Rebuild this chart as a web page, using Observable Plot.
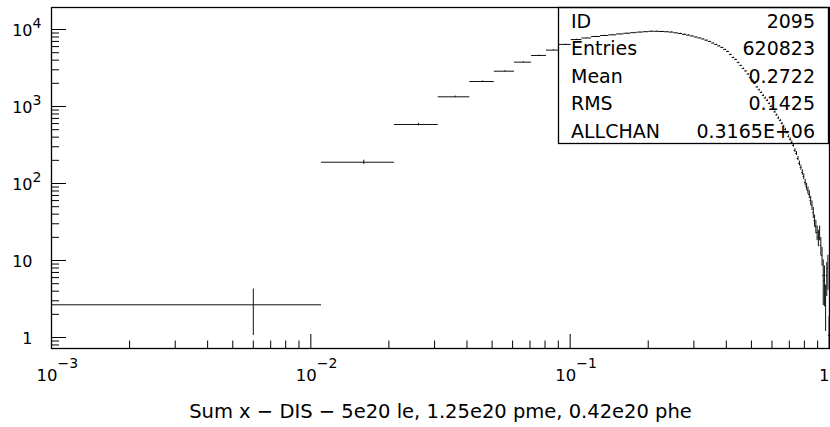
<!DOCTYPE html>
<html><head><meta charset="utf-8">
<script src="https://cdn.jsdelivr.net/npm/d3@7"></script>
<script src="https://cdn.jsdelivr.net/npm/@observablehq/plot@0.6"></script>
<style>
html,body{margin:0;padding:0;background:#fff;}
#chart{width:830px;height:427px;overflow:hidden;}
</style></head><body><div id="chart"></div>
<script>
// Histogram definition (HBOOK ID 2095): 100 bins of width 0.01 starting at 0.001
const histMin = 0.001;
const binWidth = 0.01;
const counts = [
  2.66, 189, 584, 1336, 2112, 2875, 3768, 4600, 5400, 6400,
  7410, 7760, 8110, 8360, 8530, 8750, 8930, 9090, 9250, 9360,
  9480, 9470, 9420, 9350, 9250, 9060, 8870, 8660, 8450, 8240,
  7990, 7760, 7530, 7260, 6980, 6670, 6380, 6100, 5830, 5490,
  5180, 4730, 4320, 4070, 3720, 3400, 3110, 2890, 2640, 2380,
  2180, 1990, 1790, 1640, 1520, 1390, 1290, 1200, 1090, 1000,
  930, 850, 776, 709, 658, 601, 550, 502, 459, 408,
  373, 341, 312, 268, 245, 211, 182, 161, 139, 123,
  103, 91, 81, 72, 60, 52, 42, 33, 27.7, 23.1,
  19.9, 23, 15.7, 11.6, 6.4, 5.5, 3.0, 6.4, 7.9, 1.06
];
const errors = [
  1.6, 12, 21, 32, 40, 46, 53, 59, 64, 69,
  75, 76, 78, 79, 80, 81, 82, 83, 83, 84,
  84, 84, 84, 84, 83, 82, 82, 81, 80, 79,
  77, 76, 75, 74, 72, 71, 69, 68, 66, 64,
  62, 60, 57, 55, 53, 50, 48, 47, 45, 42,
  41, 39, 37, 35, 34, 32, 31, 30, 29, 27,
  26, 25, 24, 23, 22, 21, 20, 19, 19, 18,
  17, 16, 16, 15, 14, 13, 13, 12, 11, 11,
  10, 9.5, 9, 8.5, 8, 7.5, 7, 6, 5.5, 5,
  4.8, 5, 4.2, 3.2, 3.8, 3, 1.8, 3, 3.8, 0.8
];

const xPowerTicks = [0.001, 0.01, 0.1];
const xPowerExp   = ["\u22123", "\u22122", "\u22121"];
const xUnitTick   = [1];
const xMajorTicks = [0.001, 0.01, 0.1, 1];
const xMinorTicks = [0.002,0.003,0.004,0.005,0.006,0.007,0.008,0.009,
                     0.02,0.03,0.04,0.05,0.06,0.07,0.08,0.09,
                     0.2,0.3,0.4,0.5,0.6,0.7,0.8,0.9];

const yMajorTicks = [1, 10, 100, 1000, 10000];
const yMinorTicks = [0.8,0.9, 2,3,4,5,6,7,8,9, 20,30,40,50,60,70,80,90,
                     200,300,400,500,600,700,800,900, 2000,3000,4000,5000,6000,7000,8000,9000];
const yTickBase = ["1", "10", "10", "10", "10"];
const yTickExp  = ["", "", "2", "3", "4"];

const statLabels = ["ID", "Entries", "Mean", "RMS", "ALLCHAN"];
const statValues = ["2095", "620823", "0.2722", "0.1425", "0.3165E+06"];
const xLabel = "Sum x \u2212 DIS \u2212 5e20 le, 1.25e20 pme, 0.42e20 phe";

const bins = counts.map((v, i) => ({
  lo: histMin + i * binWidth,
  hi: histMin + (i + 1) * binWidth,
  c: histMin + (i + 0.5) * binWidth,
  v, e: errors[i]
}));

const W = 830, H = 427, mL = 51, mR = 1, mT = 7, mB = 79;
const fw = W - mL - mR, fh = H - mT - mB;
const font = "'DejaVu Sans', sans-serif";

const plot = Plot.plot({
  width: W, height: H,
  marginLeft: mL, marginRight: mR, marginTop: mT, marginBottom: mB,
  style: {fontFamily: font, background: "#fff", color: "#000", overflow: "visible"},
  x: {type: "log", domain: [0.001, 1], axis: null},
  y: {type: "log", domain: [0.72, 19310], axis: null},
  marks: [
    Plot.ruleY(bins, {y: "v", x1: "lo", x2: "hi", stroke: "#111", strokeWidth: 1, clip: true}),
    Plot.ruleX(bins, {x: "c", y1: d => Math.max(d.v - d.e, 0.05), y2: d => d.v + d.e, stroke: "#111", strokeWidth: 1, clip: true}),
    Plot.tickX(xMajorTicks, {x: d => d, insetTop: fh - 14, stroke: "#000"}),
    Plot.tickX(xMinorTicks, {x: d => d, insetTop: fh - 7.5, stroke: "#000"}),
    Plot.tickY(yMajorTicks, {y: d => d, insetRight: fw - 15, stroke: "#000"}),
    Plot.tickY(yMinorTicks, {y: d => d, insetRight: fw - 8, stroke: "#000"}),
    Plot.frame({stroke: "#000", strokeWidth: 1.3}),
    Plot.text(xPowerTicks, {x: d => d, frameAnchor: "bottom", lineAnchor: "middle", text: () => "10", dx: 6, dy: 27, textAnchor: "end", fontSize: 16.5}),
    Plot.text(xPowerTicks, {x: d => d, frameAnchor: "bottom", lineAnchor: "middle", text: (d, i) => xPowerExp[i], dx: 6, dy: 15, textAnchor: "start", fontSize: 14}),
    Plot.text(xUnitTick, {x: d => d, frameAnchor: "bottom", lineAnchor: "middle", text: () => "1", dx: 0, dy: 27, textAnchor: "end", fontSize: 16.5}),
    Plot.text(yMajorTicks, {y: d => d, frameAnchor: "left", lineAnchor: "middle", text: (d, i) => yTickBase[i], dx: -19, dy: 1, textAnchor: "end", fontSize: 16}),
    Plot.text(yMajorTicks, {y: d => d, frameAnchor: "left", lineAnchor: "middle", text: (d, i) => yTickExp[i], dx: -19, dy: -6, textAnchor: "start", fontSize: 14}),
    Plot.text([xLabel], {frameAnchor: "bottom", lineAnchor: "middle", dy: 63, fontSize: 19.5})
  ]
});

// Statistics box (top right, HBOOK style)
const svg = d3.select(plot);
const boxW = 271, boxH = 136;
const bx = W - mR - boxW, by = mT;
const g = svg.append("g").attr("font-family", font).attr("font-size", 19);
g.append("rect").attr("x", bx + 0.5).attr("y", by + 0.5).attr("width", boxW - 1).attr("height", boxH)
  .attr("fill", "none").attr("stroke", "#000").attr("stroke-width", 1.3);
statLabels.forEach((lab, i) => {
  const yb = by + 21 + i * 27.4;
  g.append("text").attr("x", bx + 13).attr("y", yb).attr("text-anchor", "start").text(lab);
  g.append("text").attr("x", bx + 257).attr("y", yb).attr("text-anchor", "end").text(statValues[i]);
});

document.getElementById("chart").appendChild(plot);
</script></body></html>
